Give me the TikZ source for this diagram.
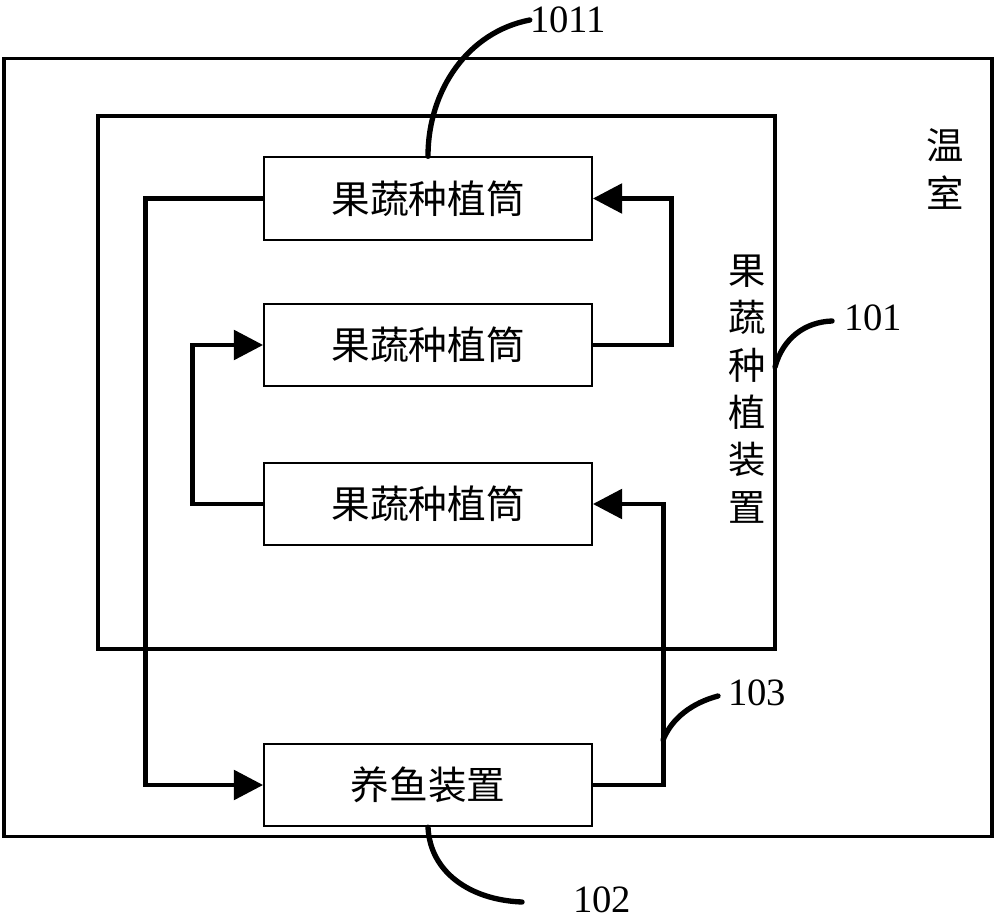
\documentclass[tikz,border=0pt]{standalone}
\usepackage{fontspec}
\setmainfont{Liberation Serif}
\newfontfamily\cjk{Noto Sans CJK SC}
\usetikzlibrary{arrows.meta}
\begin{document}
\begin{tikzpicture}[x=0.75pt,y=-0.75pt,
  frame/.style={draw,line width=2.3pt,inner sep=0pt},
  tube/.style={draw,line width=1.3pt,minimum width=246pt,minimum height=62pt,inner sep=0pt,font=\cjk\fontsize{29}{32}\selectfont},
  conn/.style={line width=3.6pt},
  arr/.style={conn,-{Triangle[length=22pt,width=22pt]}},
  lead/.style={line width=4pt,line cap=round},
  num/.style={font=\fontsize{29}{30}\selectfont,inner sep=0pt},
  vtext/.style={font=\cjk\fontsize{28}{35.5}\selectfont,align=center,inner sep=0pt}]
\useasboundingbox (0,0) rectangle (1000,920);
\node[frame,minimum width=741pt,minimum height=584pt] (gh) at (498,447.5) {};
\node[frame,minimum width=507.75pt,minimum height=399.75pt] (dev) at (436.5,382.5) {};
\node[tube] (b1) at (428,198.5) {果蔬种植筒};
\node[tube] (b2) at (428,345) {果蔬种植筒};
\node[tube] (b3) at (428,504) {果蔬种植筒};
\node[tube] (fish) at (428,785) {养鱼装置};
\node[vtext] (ghl) at (945,169) {温\\室};
\node[vtext] (devl) at (747,389) {果\\蔬\\种\\植\\装\\置};
\node[num] (n1011) at (568,20) {1011};
\node[num] (n101) at (873,318) {101};
\node[num] (n103) at (757,693) {103};
\node[num] (n102) at (602,900) {102};
\coordinate (p101) at (775,367);
\coordinate (p103) at (663,740);
\coordinate (e101) at (832,321);
\coordinate (e103) at (718,696);
\coordinate (e102) at (522,902);
% connectors
\draw[arr] (b1.west) -- ++(-118,0) |- (fish.west);
\draw[arr] (b2.east) -- ++(79,0) |- (b1.east);
\draw[arr] (b3.west) -- ++(-71,0) |- (b2.west);
\draw[arr] (fish.east) -- ++(71,0) |- (b3.east);
% leaders
\draw[lead] (b1.north) .. controls (428,90) and (468,32) .. (n1011.west);
\draw[lead] (p101) .. controls (783,338) and (805,322) .. (e101);
\draw[lead] (p103) .. controls (672,718) and (692,703) .. (e103);
\draw[lead] (fish.south) .. controls (430,872) and (470,900) .. (e102);
\end{tikzpicture}
\end{document}
